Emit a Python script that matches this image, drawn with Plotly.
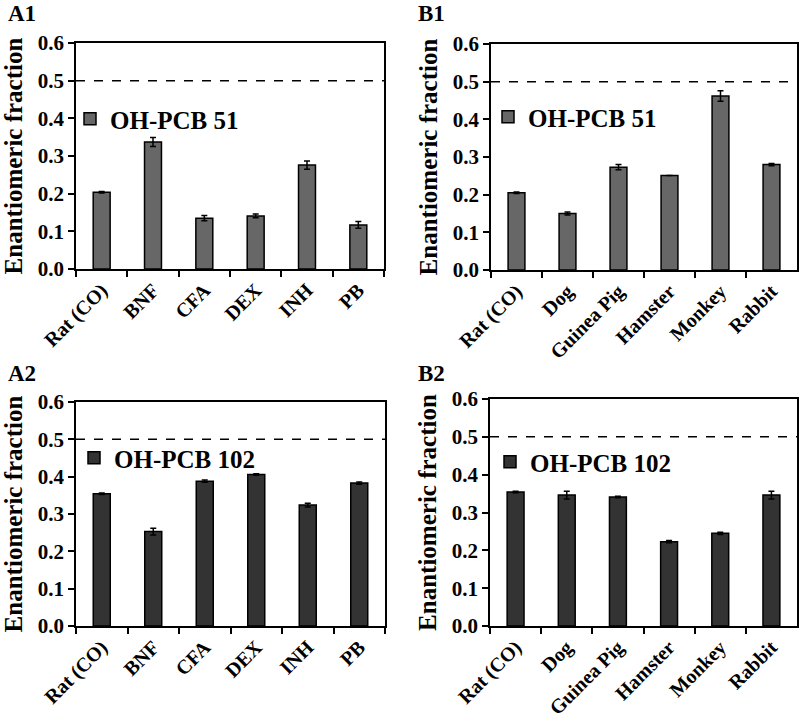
import plotly.graph_objects as go
from plotly.subplots import make_subplots

# ---- data ----
treat_cats = ["Rat (CO)", "BNF", "CFA", "DEX", "INH", "PB"]
species_cats = ["Rat (CO)", "Dog", "Guinea Pig", "Hamster", "Monkey", "Rabbit"]

a1_vals = [0.204, 0.337, 0.135, 0.141, 0.276, 0.117]
a1_err = [0.002, 0.012, 0.007, 0.005, 0.011, 0.009]

b1_vals = [0.205, 0.150, 0.273, 0.251, 0.462, 0.280]
b1_err = [0.002, 0.004, 0.007, 0.0, 0.014, 0.003]

a2_vals = [0.354, 0.253, 0.388, 0.406, 0.324, 0.383]
a2_err = [0.002, 0.009, 0.003, 0.002, 0.005, 0.003]

b2_vals = [0.354, 0.346, 0.341, 0.223, 0.245, 0.346]
b2_err = [0.002, 0.010, 0.002, 0.003, 0.003, 0.010]

y_ticks = [0.0, 0.1, 0.2, 0.3, 0.4, 0.5, 0.6]

series_names = ["OH-PCB 51", "OH-PCB 51", "OH-PCB 102", "OH-PCB 102"]
panel_labels = ["A1", "B1", "A2", "B2"]
ref_line = 0.5

W, H = 800, 713
FONT = "Liberation Serif"
gray = "#676767"
dark = "#333333"

fig = make_subplots(rows=2, cols=2)

panels = [
    (treat_cats, a1_vals, a1_err, gray, 1, 1, "legend"),
    (species_cats, b1_vals, b1_err, gray, 1, 2, "legend2"),
    (treat_cats, a2_vals, a2_err, dark, 2, 1, "legend3"),
    (species_cats, b2_vals, b2_err, dark, 2, 2, "legend4"),
]

for i, (cats, vals, errs, col, r, c, lg) in enumerate(panels):
    fig.add_trace(go.Bar(
        x=cats, y=vals, name="<b>" + series_names[i] + "</b>",
        marker=dict(color=col, line=dict(color="black", width=1.5)),
        error_y=dict(type="data", array=errs, visible=True, color="black",
                     thickness=1.5, width=3),
        showlegend=True, legend=lg,
    ), row=r, col=c)

def px_x(a, b):
    return [a / W, b / W]

def px_y(top, bottom):
    return [1 - bottom / H, 1 - top / H]

doms = [
    (px_x(76, 384), px_y(43, 269)),
    (px_x(491, 797), px_y(44, 270)),
    (px_x(76, 385), px_y(402, 626)),
    (px_x(490, 797), px_y(399, 626)),
]

for i, (dx, dy) in enumerate(doms):
    sfx = "" if i == 0 else str(i + 1)
    cats = panels[i][0]
    fig.layout["xaxis" + sfx].update(
        domain=dx, anchor="y" + sfx, automargin=False,
        showline=True, linecolor="black", linewidth=1.5,
        mirror=True, ticks="outside", tickson="boundaries", ticklen=6,
        tickcolor="black", tickwidth=1.5, tickangle=-45,
        tickmode="array", tickvals=cats, ticktext=["<b>" + c + "</b>" for c in cats],
        tickfont=dict(family=FONT, size=20, color="black", weight="bold"),
        showgrid=False,
    )
    fig.layout["yaxis" + sfx].update(
        domain=dy, anchor="x" + sfx, automargin=False, range=[0, 0.6],
        tickmode="array", tickvals=y_ticks,
        ticktext=["<b>%.1f</b>" % v for v in y_ticks],
        showline=True, linecolor="black", linewidth=1.5, mirror=True,
        ticks="outside", ticklen=6, tickcolor="black", tickwidth=1.5,
        tickfont=dict(family=FONT, size=21, color="black", weight="bold"),
        showgrid=False, zeroline=False,
        title=dict(text="<b>Enantiomeric fraction</b>", standoff=8,
                   font=dict(family=FONT, size=25, color="black", weight="bold")),
    )
    fig.add_shape(type="line", xref=("x" + sfx) + " domain", yref="y" + sfx,
                  x0=0, x1=1, y0=ref_line, y1=ref_line,
                  line=dict(color="black", width=1.5, dash="dash"))

label_pos = [(6, 14), (416, 14), (6, 373), (416, 373)]
for lab, (lx, ly) in zip(panel_labels, label_pos):
    fig.add_annotation(text="<b>" + lab + "</b>", xref="paper", yref="paper",
                       x=lx / W, y=1 - ly / H,
                       xanchor="left", yanchor="middle", showarrow=False,
                       font=dict(family=FONT, size=23, color="black", weight="bold"))

legend_pos = [(70, 119), (488, 117), (74, 458), (490, 462)]
leg_keys = ["legend", "legend2", "legend3", "legend4"]
for k, (lx, ly) in zip(leg_keys, legend_pos):
    fig.layout[k] = dict(x=lx / W, y=1 - ly / H, xanchor="left", yanchor="middle",
                         bgcolor="rgba(0,0,0,0)", borderwidth=0,
                         font=dict(family=FONT, size=25, color="black", weight="bold"))

fig.update_layout(
    width=W, height=H, margin=dict(l=0, r=0, t=0, b=0),
    paper_bgcolor="white", plot_bgcolor="white",
    bargap=0.67,
)

fig.write_html("out.html", config={"displayModeBar": False},
               post_script="document.body.style.margin='0';document.body.style.overflow='hidden';")
